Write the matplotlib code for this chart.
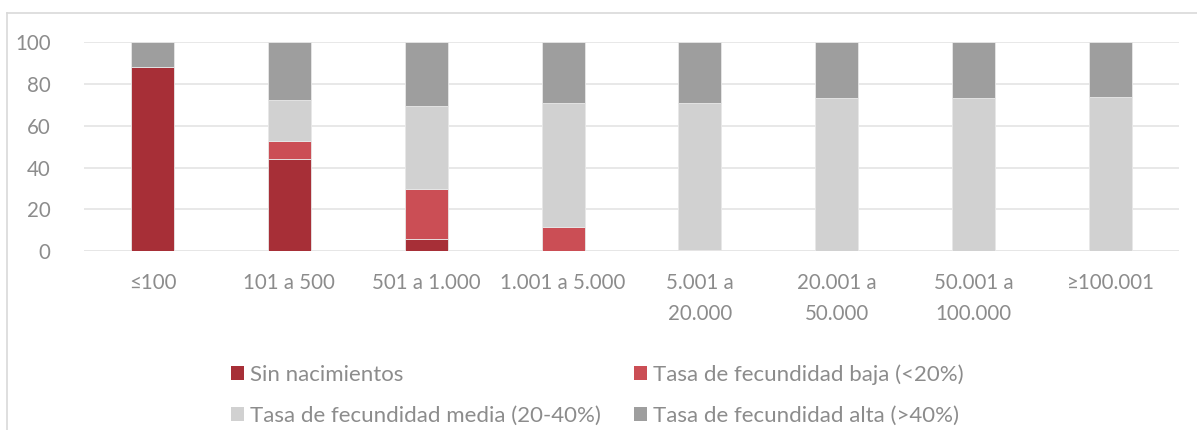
import matplotlib
matplotlib.use("Agg")
import matplotlib.pyplot as plt
from matplotlib.patches import Patch
from matplotlib.lines import Line2D
import numpy as np

plt.rcParams['font.family'] = ['Lato', 'DejaVu Sans']

categories = ["≤100", "101 a 500", "501 a 1.000", "1.001 a 5.000",
              "5.001 a\n20.000", "20.001 a\n50.000", "50.001 a\n100.000", "≥100.001"]
sin_nac = [88.2, 44.3, 5.9, 0.2, 0.0, 0.0, 0.0, 0.0]
baja = [0.0, 8.2, 23.8, 11.1, 0.5, 0.0, 0.0, 0.0]
media = [0.0, 19.7, 40.0, 59.5, 70.2, 73.4, 73.4, 74.0]
alta = [11.8, 27.8, 30.3, 29.2, 29.3, 26.6, 26.6, 26.0]

series = [
    ("Sin nacimientos", sin_nac, "#a72f37"),
    ("Tasa de fecundidad baja (<20%)", baja, "#cb4e55"),
    ("Tasa de fecundidad media (20-40%)", media, "#d1d1d1"),
    ("Tasa de fecundidad alta (>40%)", alta, "#9e9e9e"),
]

text_col = "#8c8c8c"
grid_col = "#e6e6e6"

fig = plt.figure(figsize=(11.97, 4.30), dpi=100)
ax = fig.add_axes([84 / 1197, 1 - 251 / 430, (1179 - 84) / 1197, (251 - 42.3) / 430])

x = np.arange(len(categories))
bottom = np.zeros(len(categories))
for name, vals, col in series:
    vals = np.array(vals)
    ax.bar(x, vals, 0.314, bottom=bottom, color=col, edgecolor="#e8e8e8",
           linewidth=0.6, zorder=3)
    bottom += vals

ax.set_xlim(-0.5, len(categories) - 0.5)
ax.set_ylim(0, 100)
ax.set_yticks([0, 20, 40, 60, 80, 100])
ax.yaxis.grid(True, color=grid_col, linewidth=1.3, zorder=0)
ax.set_xticks(x)
ax.set_xticklabels(categories, linespacing=1.65)
ax.tick_params(axis="both", length=0, colors=text_col, labelsize=14.8)
ax.tick_params(axis="y", pad=24)
ax.tick_params(axis="x", pad=16)
for sp in ax.spines.values():
    sp.set_visible(False)
ax.axhline(0, color=grid_col, linewidth=1.3, zorder=2)

# legend fills row by row in the original: reorder for matplotlib's column fill
order = [0, 2, 1, 3]
handles = [Patch(facecolor=series[i][2], edgecolor="none") for i in order]
labels = [series[i][0] for i in order]
leg = fig.legend(handles, labels, ncol=2, loc="upper left",
                 bbox_to_anchor=(211 / 1197, 1 - 344 / 430), frameon=False,
                 fontsize=16, labelcolor=text_col, handlelength=0.6,
                 handleheight=0.6, handletextpad=0.25, columnspacing=1.5,
                 labelspacing=0.95)

# outer chart frame (partially cropped)
fig.add_artist(Line2D([7 / 1197, 7 / 1197], [0, 1 - 12.5 / 430], color="#d9d9d9",
                      linewidth=1.2, transform=fig.transFigure))
fig.add_artist(Line2D([7 / 1197, 1], [1 - 12.5 / 430, 1 - 12.5 / 430], color="#d9d9d9",
                      linewidth=1.2, transform=fig.transFigure))

fig.savefig("out.png", dpi=100)
